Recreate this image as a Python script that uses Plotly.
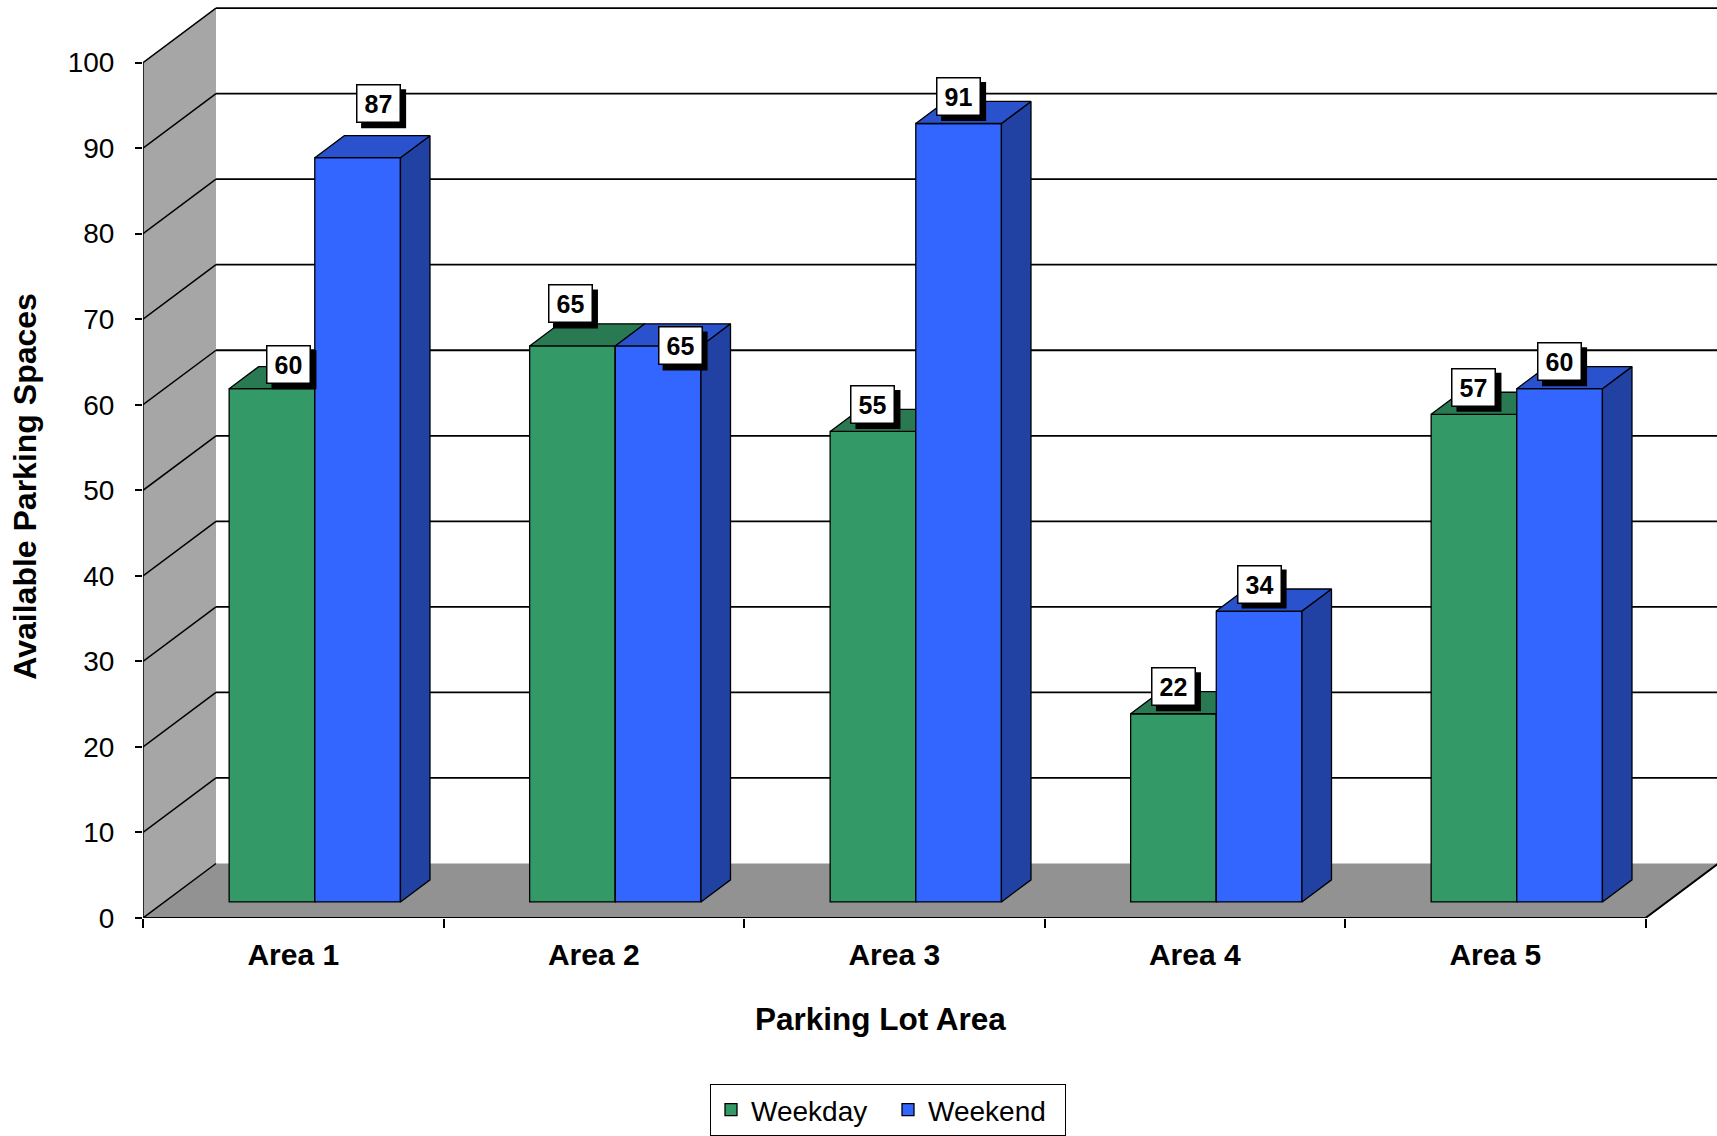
import plotly.graph_objects as go

# ---------------- data ----------------
categories = ["Area 1", "Area 2", "Area 3", "Area 4", "Area 5"]
weekday = [60, 65, 55, 22, 57]
weekend = [87, 65, 91, 34, 60]
series_names = ["Weekday", "Weekend"]
y_ticks = list(range(0, 101, 10))

# ---------------- style / geometry ----------------
FONT = "Arial, Liberation Sans, sans-serif"
W_FIG, H_FIG = 1717, 1136
L_MARGIN, B_MARGIN = 143, 218
PX_X = 300.5          # pixels per category on the front plane
PX_Y = 8.554          # pixels per value unit
plot_w = W_FIG - L_MARGIN
plot_h = H_FIG - B_MARGIN
x_range = [-0.5, -0.5 + plot_w / PX_X]
y_range = [0, plot_h / PX_Y]
DX = 73 / PX_X        # depth offset (x units)
DY = 54.5 / PX_Y      # depth offset (y units)
F0 = 0.295            # bar front position within depth
FD = 0.405            # bar depth fraction
BW = 0.285            # bar width (category units)
Y_MAX = 100

G_FRONT, G_TOP, G_SIDE = "#339966", "#297A52", "#206040"
B_FRONT, B_TOP, B_SIDE = "#3366FF", "#2952CC", "#2142A3"
WALL, FLOOR = "#A6A6A6", "#929292"

# label nudges in px (dx, extra up) relative to default position
default_up = 27
label_nudge = {(0, 0): (17, -3), (0, 1): (21, 27), (1, 0): (-2, 15), (1, 1): (22, -27)}
BOX_W, BOX_H, SHADOW = 45, 39, 5

x0 = -0.5
x_last = len(categories) - 0.5
base = F0 * DY
shift = F0 * DX
ddx, ddy = FD * DX, FD * DY

fig = go.Figure()


def faces(values, offset):
    tx, ty, sx, sy = [], [], [], []
    for i, v in enumerate(values):
        xa = i + offset
        xb = xa + BW
        top = base + v
        tx += [xa, xb, xb + ddx, xa + ddx, xa, None]
        ty += [top, top, top + ddy, top + ddy, top, None]
        sx += [xb, xb + ddx, xb + ddx, xb, xb, None]
        sy += [base, base + ddy, top + ddy, top, base, None]
    return tx, ty, sx, sy


series = [
    (weekday, series_names[0], shift - BW, G_FRONT, G_TOP, G_SIDE, "x", "y"),
    (weekend, series_names[1], shift, B_FRONT, B_TOP, B_SIDE, "x2", "y2"),
]

for vals, name, off, cf, ct, cs, xa, ya in series:
    fig.add_trace(go.Bar(
        x=list(range(len(categories))), y=vals, base=base, width=BW, offset=off,
        name=name, marker=dict(color=cf, line=dict(color="black", width=1.3)),
        xaxis=xa, yaxis=ya, hoverinfo="skip",
    ))
    tx, ty, sx, sy = faces(vals, off)
    fig.add_trace(go.Scatter(x=sx, y=sy, fill="toself", fillcolor=cs, mode="lines",
                             line=dict(color="black", width=1.3), showlegend=False,
                             hoverinfo="skip", xaxis=xa, yaxis=ya))
    fig.add_trace(go.Scatter(x=tx, y=ty, fill="toself", fillcolor=ct, mode="lines",
                             line=dict(color="black", width=1.3), showlegend=False,
                             hoverinfo="skip", xaxis=xa, yaxis=ya))

# ---------------- walls, floor, gridlines ----------------
shapes = []
shapes.append(dict(type="path", xref="x", yref="y", layer="below",
                   path=f"M {x0},0 L {x0+DX},{DY} L {x0+DX},{Y_MAX+DY} L {x0},{Y_MAX} Z",
                   fillcolor=WALL, line=dict(width=0)))
shapes.append(dict(type="path", xref="x", yref="y", layer="below",
                   path=f"M {x0},0 L {x_last},0 L {x_last+DX},{DY} L {x0+DX},{DY} Z",
                   fillcolor=FLOOR, line=dict(width=0)))
for v in y_ticks:
    if v > 0:
        shapes.append(dict(type="line", xref="x", yref="y", layer="below",
                           x0=x0 + DX, y0=v + DY, x1=x_range[1] + 1, y1=v + DY,
                           line=dict(color="black", width=1.8)))
    shapes.append(dict(type="line", xref="x", yref="y", layer="below",
                       x0=x0, y0=v, x1=x0 + DX, y1=v + DY,
                       line=dict(color="black", width=1.5)))
shapes.append(dict(type="line", xref="x", yref="y", layer="below",
                   x0=x0, y0=0, x1=x0, y1=Y_MAX, line=dict(color="black", width=1.5)))
shapes.append(dict(type="path", xref="x", yref="y", layer="below",
                   path=f"M {x0},0 L {x_last},0 L {x_last+DX},{DY}",
                   line=dict(color="black", width=2)))

# ---------------- data labels ----------------
annotations = []
for s, (vals, name, off, *_rest) in enumerate(series):
    for i, v in enumerate(vals):
        cx = i + off + BW / 2
        dxp, up = label_nudge.get((i, s), (0, 0))
        ys = default_up + up
        # drop shadow (pixel-sized rectangle anchored at the bar top)
        shapes.append(dict(type="rect", xref="x", yref="y", layer="above",
                           xsizemode="pixel", ysizemode="pixel",
                           xanchor=cx, yanchor=base + v,
                           x0=dxp - BOX_W / 2 + SHADOW, x1=dxp + BOX_W / 2 + SHADOW,
                           y0=ys - BOX_H / 2 - SHADOW, y1=ys + BOX_H / 2 - SHADOW,
                           fillcolor="black", line=dict(width=0)))
        annotations.append(dict(x=cx, y=base + v, xref="x", yref="y", showarrow=False,
                                text=f"<b>{v}</b>", width=BOX_W - 5, height=BOX_H - 5,
                                borderpad=1, xshift=dxp, yshift=ys,
                                bgcolor="white", bordercolor="black", borderwidth=1.5,
                                font=dict(family=FONT, size=25, color="black")))

# axis titles
annotations.append(dict(text="<b>Available Parking Spaces</b>", textangle=-90,
                        xref="paper", yref="paper",
                        x=(24.7 - L_MARGIN) / plot_w, y=(plot_h - 486) / plot_h,
                        xanchor="center", yanchor="middle", showarrow=False,
                        font=dict(family=FONT, size=32, color="black")))
annotations.append(dict(text="<b>Parking Lot Area</b>", xref="paper", yref="paper",
                        x=(880.7 - L_MARGIN) / plot_w, y=(plot_h - 1019) / plot_h,
                        xanchor="center", yanchor="middle", showarrow=False,
                        font=dict(family=FONT, size=31.5, color="black")))

fig.update_layout(
    width=W_FIG, height=H_FIG,
    margin=dict(l=L_MARGIN, r=0, t=0, b=B_MARGIN, pad=0),
    paper_bgcolor="white", plot_bgcolor="white",
    font=dict(family=FONT, color="black"),
    shapes=shapes, annotations=annotations,
    showlegend=True,
    legend=dict(orientation="h", x=(888 - L_MARGIN) / plot_w, xanchor="center",
                y=(plot_h - 1084) / plot_h, yanchor="top",
                font=dict(family=FONT, size=28, color="black"),
                bordercolor="black", borderwidth=1, bgcolor="white",
                entrywidth=132, entrywidthmode="pixels", itemclick=False,
                itemdoubleclick=False),
    xaxis=dict(range=x_range, tickmode="array", tickvals=list(range(len(categories))),
               ticktext=[f"<b>{c}</b>" for c in categories], ticks="",
               showgrid=False, zeroline=False, showline=False,
               tickfont=dict(family=FONT, size=30, color="black"),
               ticklabelstandoff=16,
               minor=dict(tickmode="array",
                          tickvals=[i - 0.5 for i in range(len(categories) + 1)],
                          ticks="outside", ticklen=9, tickwidth=1.5, tickcolor="black",
                          showgrid=False),
               fixedrange=True),
    yaxis=dict(range=y_range, tickmode="array", tickvals=y_ticks, ticks="outside",
               ticklen=7, tickwidth=1.5, tickcolor="black", showgrid=False,
               zeroline=False, showline=False, ticklabelstandoff=15,
               tickfont=dict(family=FONT, size=28, color="black"), fixedrange=True),
    xaxis2=dict(range=x_range, overlaying="x", anchor="y2", visible=False, fixedrange=True),
    yaxis2=dict(range=y_range, overlaying="y", anchor="x2", visible=False, fixedrange=True),
)

fig.write_html("out.html", config={"displayModeBar": False})
